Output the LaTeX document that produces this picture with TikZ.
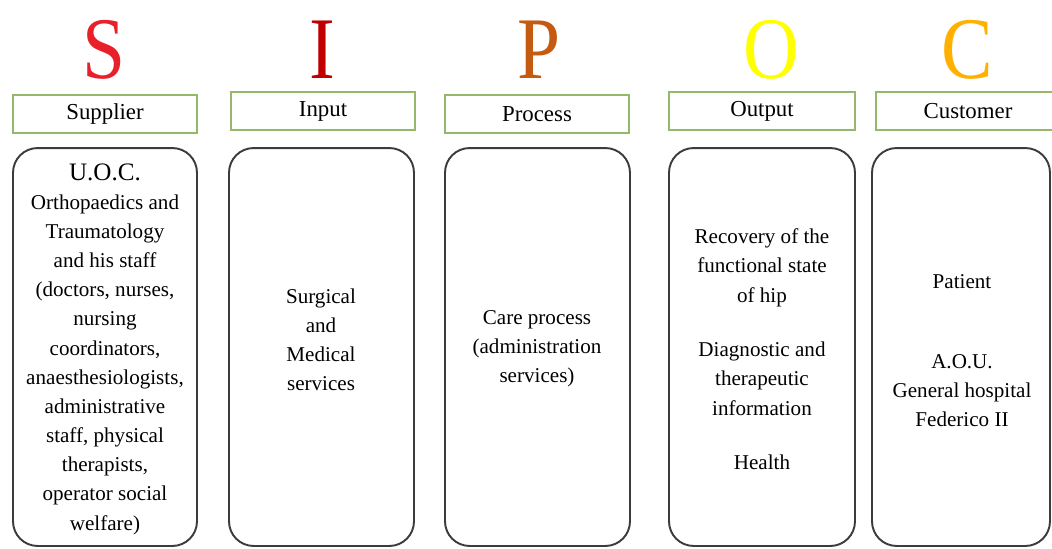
\documentclass[tikz,border=0pt]{standalone}
\usepackage{fontspec}
\setmainfont{Liberation Serif}
\newfontfamily\letterfont[FakeStretch=0.88]{Liberation Serif}
\definecolor{colS}{HTML}{E8202A}
\definecolor{colI}{HTML}{C00000}
\definecolor{colP}{HTML}{C55A11}
\definecolor{colO}{HTML}{FFFF00}
\definecolor{colC}{HTML}{FFB000}
\definecolor{headline}{RGB}{150,185,105}
\definecolor{cardline}{RGB}{60,60,60}

\begin{document}
\begin{tikzpicture}[x=0.02cm,y=-0.02cm,
  letter/.style={anchor=base,font=\letterfont\fontsize{50}{54}\selectfont},
  head/.style={draw=headline,line width=0.9pt,minimum width=3.68cm,minimum height=0.76cm,inner sep=0pt,font=\fontsize{13}{15}\selectfont},
  card/.style={draw=cardline,line width=1.1pt,rounded corners=14pt,minimum width=3.68cm,minimum height=7.96cm,inner sep=0pt},
  body/.style={align=center,font=\fontsize{12}{16.6}\selectfont}]
\useasboundingbox (0,0) rectangle (1052,548);

% the five letters
\node[letter,text=colS] (lS) at (104,78) {S};
\node[letter,text=colI] (lI) at (322,78) {I};
\node[letter,text=colP] (lP) at (539,78) {P};
\node[letter,text=colO] (lO) at (771,78) {O};
\node[letter,text=colC] (lC) at (967,78) {C};

% header boxes
\node[head] (hsup) at (105,114) {Supplier};
\node[head] (hin) at (323,111) {Input};
\node[head] (hproc) at (537,114) {Process};
\node[head,minimum width=3.72cm] (hout) at (762,111) {Output};
\node[head] (hcus) at (968,111) {Customer};

% rounded boxes
\node[card] (csup) at (105,347) {};
\node[card,minimum width=3.7cm] (cin) at (321.5,347) {};
\node[card,minimum width=3.7cm] (cproc) at (537.5,347) {};
\node[card,minimum width=3.72cm] (cout) at (762,347) {};
\node[card,minimum width=3.56cm] (ccus) at (961,347) {};

\node[body] (tsup) at (105,349) {{\fontsize{14.3}{17}\selectfont U.O.C.}\\
  Orthopaedics and\\ Traumatology\\ and his staff\\ (doctors, nurses,\\ nursing\\
  coordinators,\\ anaesthesiologists,\\ administrative\\ staff, physical\\
  therapists,\\ operator social\\ welfare)};
\node[body] (tin) at (321,340) {Surgical\\ and\\ Medical\\ services};
\node[body] (tproc) at (537,349) {Care process\\ (administration\\ services)};
\node[body] (tout) at (762,349.5) {Recovery of the\\ functional state\\ of hip\\[14.6pt]
  Diagnostic and\\ therapeutic\\ information\\[14.6pt] Health};
\node[body] (tcus) at (962,351) {Patient\\[28.8pt] A.O.U.\\ General hospital\\ Federico II};
\end{tikzpicture}
\end{document}
